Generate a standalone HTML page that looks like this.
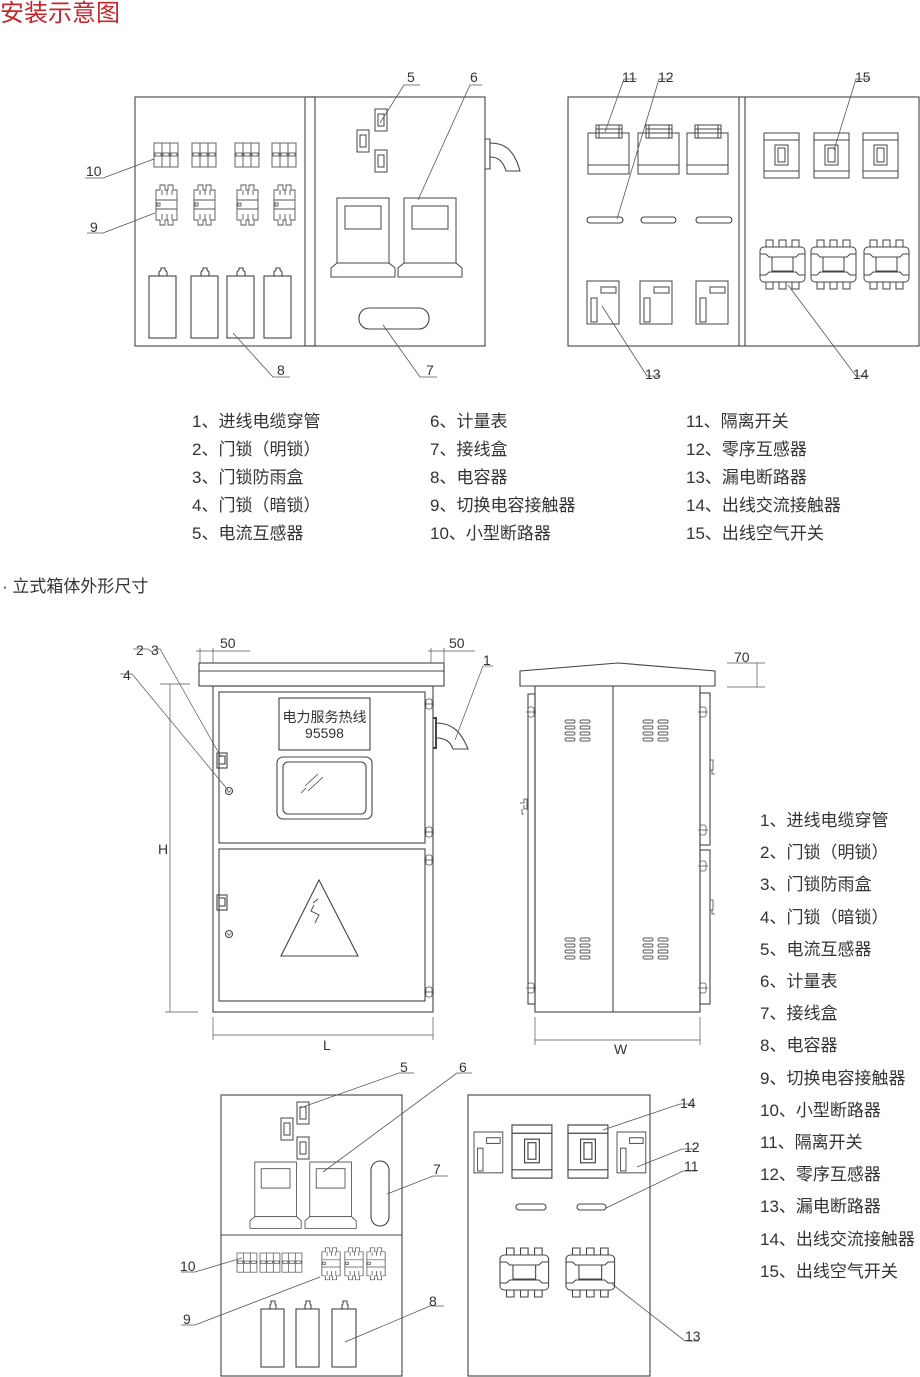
<!DOCTYPE html>
<html><head><meta charset="utf-8"><style>
html,body{margin:0;padding:0;background:#fff;}
svg{display:block;}
text{font-family:"Liberation Sans","Noto Sans CJK SC",sans-serif;fill:#333;}
</style></head><body>
<svg width="920" height="1377" viewBox="0 0 920 1377" xmlns="http://www.w3.org/2000/svg">
<defs>
<g id="brk" fill="none" stroke="#555" stroke-width="0.9">
<rect x="0" y="0" width="24" height="24"/><line x1="8" y1="0" x2="8" y2="24"/><line x1="16" y1="0" x2="16" y2="24"/>
<rect x="1" y="10" width="6" height="3"/><rect x="9" y="10" width="6" height="3"/><rect x="17" y="10" width="6" height="3"/>
</g>
<g id="con" fill="none" stroke="#555" stroke-width="0.9">
<path d="M1 6 h4 v-5 h5 v5 h3 v-5 h5 v5 h4 v30 h-4 v5 h-5 v-5 h-3 v5 h-5 v-5 h-4 z"/>
<line x1="1" y1="16" x2="22" y2="16"/><line x1="1" y1="25" x2="22" y2="25"/>
<rect x="2" y="19" width="3" height="3"/>
<path d="M7 6 v5 M12 6 v5 M17 6 v5 M7 30 v6 M12 30 v6 M17 30 v6"/>
</g>
<g id="meter" fill="none" stroke="#444" stroke-width="1">
<rect x="6" y="0" width="52" height="65"/><rect x="14" y="8" width="36" height="23"/>
<path d="M6 65 L0 70 L0 79 L64 79 L64 70 L58 65"/>
</g>
<g id="ct" fill="none" stroke="#444" stroke-width="1"><rect x="0" y="0" width="12" height="22"/><rect x="3" y="5" width="6" height="12"/></g>
<g id="iso" fill="none" stroke="#444" stroke-width="1">
<rect x="0" y="8" width="41" height="41"/><line x1="0" y1="40" x2="41" y2="40"/>
<rect x="8" y="0" width="26" height="13"/><line x1="11" y1="0" x2="11" y2="13"/><line x1="31" y1="0" x2="31" y2="13"/><line x1="8" y1="4" x2="34" y2="4"/>
</g>
<g id="air" fill="none" stroke="#444" stroke-width="1">
<rect x="0" y="0" width="35" height="45"/><line x1="0" y1="7" x2="35" y2="7"/><line x1="0" y1="38" x2="35" y2="38"/>
<rect x="11" y="12" width="13" height="20"/><rect x="14" y="15" width="7" height="14"/>
</g>
<g id="rcd" fill="none" stroke="#444" stroke-width="1">
<rect x="0" y="0" width="32" height="43"/><rect x="14" y="6" width="15" height="6"/><rect x="4" y="17" width="6" height="24"/>
</g>
<g id="ac" fill="none" stroke="#444" stroke-width="1">
<rect x="6" y="0" width="7" height="7"/><rect x="19" y="0" width="7" height="7"/><rect x="32" y="0" width="7" height="7"/>
<rect x="6" y="42" width="7" height="7"/><rect x="19" y="42" width="7" height="7"/><rect x="32" y="42" width="7" height="7"/>
<rect x="0" y="7" width="45" height="35" rx="4"/>
<path d="M0 14 h6 l3 3 h27 l3 -3 h6 M0 35 h6 l3 -3 h27 l3 3 h6"/>
<rect x="12" y="17" width="21" height="14"/>
</g>
<g id="vent" fill="none" stroke="#555" stroke-width="0.9">
<rect x="0" y="0" width="10" height="3" rx="1.5"/><rect x="0" y="6" width="10" height="3" rx="1.5"/><rect x="0" y="12" width="10" height="3" rx="1.5"/><rect x="0" y="18" width="10" height="3" rx="1.5"/>
<rect x="15" y="0" width="10" height="3" rx="1.5"/><rect x="15" y="6" width="10" height="3" rx="1.5"/><rect x="15" y="12" width="10" height="3" rx="1.5"/><rect x="15" y="18" width="10" height="3" rx="1.5"/>
</g>
<g id="hinge" fill="none" stroke="#555" stroke-width="0.8"><rect x="-3" y="-5" width="6" height="10" rx="2"/><line x1="-5" y1="0" x2="5" y2="0"/></g>
</defs>

<text x="0" y="21" font-size="24" style="fill:#c0282d">安装示意图</text>

<!-- TOP LEFT PANEL -->
<g fill="none" stroke="#444" stroke-width="1.1">
<rect x="135" y="97" width="350" height="249"/>
<rect x="305" y="97" width="10" height="249"/>
<rect x="149" y="276" width="27" height="62"/><rect x="191" y="276" width="27" height="62"/><rect x="227" y="276" width="27" height="62"/><rect x="264" y="276" width="27" height="62"/>
<path d="M159 276 v-4 l2 -2 v-2 h4 v2 l2 2 v4 M201 276 v-4 l2 -2 v-2 h4 v2 l2 2 v4 M237 276 v-4 l2 -2 v-2 h4 v2 l2 2 v4 M274 276 v-4 l2 -2 v-2 h4 v2 l2 2 v4"/>
<rect x="359" y="308" width="70" height="21" rx="10"/>
<path d="M485 139 h5 v30 h-5 M490 143 c14 0 24 6 30 28 h-14 c-3 -10 -8 -14 -16 -14"/>
</g>
<use href="#brk" x="154" y="143"/><use href="#brk" x="192" y="143"/><use href="#brk" x="235" y="143"/><use href="#brk" x="272" y="143"/>
<use href="#con" x="155" y="184"/><use href="#con" x="193" y="184"/><use href="#con" x="236" y="184"/><use href="#con" x="273" y="184"/>
<use href="#ct" x="357" y="130"/><use href="#ct" x="375" y="109"/><use href="#ct" x="375" y="150"/>
<use href="#meter" x="331" y="198"/><use href="#meter" x="398" y="198"/>
<g stroke="#555" stroke-width="0.8" fill="none">
<path d="M380 123 L404 85 H420"/><path d="M418 200 L470 85 H482"/>
<path d="M154 159 L103 178 H85"/><path d="M155 213 L103 233 H87"/>
<path d="M233 333 L273 377 H290"/><path d="M383 325 L420 377 H437"/>
</g>
<g font-size="14"><text x="407" y="82">5</text><text x="470" y="82">6</text><text x="86" y="176">10</text><text x="90" y="232">9</text><text x="277" y="375">8</text><text x="426" y="375">7</text></g>

<!-- TOP RIGHT PANEL -->
<g fill="none" stroke="#444" stroke-width="1.1">
<rect x="568" y="97" width="351" height="249"/>
<line x1="739" y1="97" x2="739" y2="346"/><line x1="745" y1="97" x2="745" y2="346"/>
<rect x="587" y="217" width="36" height="6" rx="3"/><rect x="641" y="217" width="35" height="6" rx="3"/><rect x="696" y="217" width="36" height="6" rx="3"/>
</g>
<use href="#iso" x="588" y="125"/><use href="#iso" x="638" y="125"/><use href="#iso" x="687" y="125"/>
<use href="#rcd" x="587" y="281"/><use href="#rcd" x="640" y="281"/><use href="#rcd" x="696" y="281"/>
<use href="#air" x="764" y="133"/><use href="#air" x="814" y="133"/><use href="#air" x="863" y="133"/>
<use href="#ac" x="760" y="240"/><use href="#ac" x="811" y="240"/><use href="#ac" x="864" y="240"/>
<g stroke="#555" stroke-width="0.8" fill="none">
<path d="M605 132 L624 79 H637"/><path d="M617 219 L659 79 H672"/><path d="M834 150 L856 79 H870"/>
<path d="M602 306 L647 376 H661"/><path d="M788 285 L856 376 H869"/>
</g>
<g font-size="14"><text x="622" y="82">11</text><text x="658" y="82">12</text><text x="855" y="82">15</text><text x="645" y="379">13</text><text x="853" y="379">14</text></g>

<!-- LEGEND 1 -->
<g font-size="17">
<text x="192" y="427">1、进线电缆穿管</text><text x="192" y="455">2、门锁（明锁）</text><text x="192" y="483">3、门锁防雨盒</text><text x="192" y="511">4、门锁（暗锁）</text><text x="192" y="539">5、电流互感器</text>
<text x="430" y="427">6、计量表</text><text x="430" y="455">7、接线盒</text><text x="430" y="483">8、电容器</text><text x="430" y="511">9、切换电容接触器</text><text x="430" y="539">10、小型断路器</text>
<text x="686" y="427">11、隔离开关</text><text x="686" y="455">12、零序互感器</text><text x="686" y="483">13、漏电断路器</text><text x="686" y="511">14、出线交流接触器</text><text x="686" y="539">15、出线空气开关</text>
<text x="2" y="592">· 立式箱体外形尺寸</text>
</g>

<!-- FRONT VIEW -->
<g fill="none" stroke="#444" stroke-width="1.1">
<rect x="199" y="663" width="245" height="23"/><line x1="199" y1="671" x2="444" y2="671"/>
<rect x="213" y="686" width="220" height="326"/>
<rect x="219" y="692" width="206" height="151"/>
<rect x="219" y="849" width="206" height="152"/>
<rect x="279" y="698" width="91" height="52"/>
<rect x="277" y="757" width="95" height="62" rx="6"/><rect x="283" y="762" width="83" height="52" rx="5"/>
<path d="M305 786 l13 -12 M308 791 l15 -14 M301 793 l5 -5" stroke-width="0.8"/>
<rect x="217" y="753" width="10" height="15"/><rect x="219" y="756" width="6" height="8"/>
<circle cx="229" cy="791" r="3.5"/><path d="M227 790 l2 2.5 l2 -2.5" stroke-width="0.7"/>
<rect x="217" y="895" width="10" height="15"/><rect x="219" y="898" width="6" height="8"/>
<circle cx="229" cy="934" r="3.5"/><path d="M227 933 l2 2.5 l2 -2.5" stroke-width="0.7"/>
<path d="M319 880 L281 956 L358 956 Z"/>
<path d="M314 905 l-3 6 l8 4 l-4 8 M313 903 l5 -4" stroke-width="0.9"/>
<path d="M433 718 h3 v30 h-3" stroke-width="2"/>
<path d="M436 723 c14 0 24 6 32 26 h-15 c-3 -8 -8 -11 -17 -11"/>
</g>
<use href="#hinge" x="429" y="704"/><use href="#hinge" x="429" y="832"/><use href="#hinge" x="429" y="860"/><use href="#hinge" x="429" y="992"/>
<g stroke="#555" stroke-width="0.7" fill="none">
<path d="M200 648 v15 M213 648 v15 M196 651 H250"/><path d="M431 648 v15 M444 648 v15 M428 651 H475"/>
<path d="M170 684 V1012 M160 684 H190 M165 1012 H198"/>
<path d="M213 1017 V1040 M433 1017 V1040 M213 1035 H433"/>
<path d="M133 649 H148 L152 652 L156 649 H160 L221 757"/>
<path d="M120 674 H132 L228 790"/>
<path d="M483 666 H493 M483 666 L455 740"/>
<path d="M535 1017 V1045 M700 1017 V1045 M535 1040 H700"/>
<path d="M727 663 H765 M727 687 H765 M757 663 V687"/>
</g>
<g font-size="14"><text x="220" y="648">50</text><text x="449" y="648">50</text><text x="136" y="655">2</text><text x="151" y="655">3</text><text x="123" y="680">4</text><text x="483" y="665">1</text><text x="158" y="854">H</text><text x="323" y="1050">L</text><text x="614" y="1054">W</text><text x="734" y="662">70</text></g>
<text x="324.5" y="722" font-size="14" text-anchor="middle">电力服务热线</text>
<text x="324.5" y="738" font-size="14" text-anchor="middle">95598</text>

<!-- SIDE VIEW -->
<g fill="none" stroke="#444" stroke-width="1.1">
<path d="M520 686 V671 L618 663 L715 671 V686 Z"/>
<rect x="535" y="686" width="165" height="326"/>
<line x1="613" y1="686" x2="613" y2="1012"/>
<rect x="528" y="694" width="7" height="310"/>
<rect x="700" y="693" width="10" height="152"/><rect x="700" y="850" width="10" height="154"/>
<path d="M520 803 h4 v-4 h3 v10 h-3 v-4 M522 809 v5 h2" stroke-width="0.8"/>
<path d="M710 760 h3 v10 h-3 v-2 M712 770 v4 h3" stroke-width="0.8"/>
<path d="M710 900 h3 v10 h-3 M712 910 v4 h3" stroke-width="0.8"/>
</g>
<use href="#vent" x="565" y="720"/><use href="#vent" x="643" y="720"/><use href="#vent" x="565" y="938"/><use href="#vent" x="643" y="938"/>
<use href="#hinge" x="531" y="712"/><use href="#hinge" x="531" y="988"/><use href="#hinge" x="703" y="712"/><use href="#hinge" x="703" y="830"/><use href="#hinge" x="703" y="866"/><use href="#hinge" x="703" y="988"/>

<!-- LEGEND 2 -->
<g font-size="17">
<text x="760" y="826">1、进线电缆穿管</text><text x="760" y="858">2、门锁（明锁）</text><text x="760" y="890">3、门锁防雨盒</text><text x="760" y="923">4、门锁（暗锁）</text><text x="760" y="955">5、电流互感器</text>
<text x="760" y="987">6、计量表</text><text x="760" y="1019">7、接线盒</text><text x="760" y="1051">8、电容器</text><text x="760" y="1084">9、切换电容接触器</text><text x="760" y="1116">10、小型断路器</text>
<text x="760" y="1148">11、隔离开关</text><text x="760" y="1180">12、零序互感器</text><text x="760" y="1212">13、漏电断路器</text><text x="760" y="1245">14、出线交流接触器</text><text x="760" y="1277">15、出线空气开关</text>
</g>

<!-- BOTTOM LEFT PANEL -->
<g fill="none" stroke="#444" stroke-width="1.1">
<rect x="221" y="1095" width="181" height="281"/>
<line x1="221" y1="1235" x2="402" y2="1235"/>
<rect x="371" y="1161" width="18" height="65" rx="9"/>
<rect x="261" y="1309" width="23" height="58"/><rect x="296" y="1309" width="23" height="58"/><rect x="332" y="1309" width="24" height="58"/>
<path d="M270 1309 v-4 l1 -1 v-3 h4 v3 l1 1 v4 M305 1309 v-4 l1 -1 v-3 h4 v3 l1 1 v4 M342 1309 v-4 l1 -1 v-3 h4 v3 l1 1 v4"/>
</g>
<use href="#ct" x="281" y="1118"/><use href="#ct" x="297" y="1102"/><use href="#ct" x="297" y="1137"/>
<g transform="translate(250,1162) scale(0.8,0.84)"><use href="#meter"/></g>
<g transform="translate(305,1162) scale(0.8,0.84)"><use href="#meter"/></g>
<g transform="translate(237,1253) scale(0.83,0.8)"><use href="#brk"/></g>
<g transform="translate(260,1253) scale(0.83,0.8)"><use href="#brk"/></g>
<g transform="translate(282,1253) scale(0.83,0.8)"><use href="#brk"/></g>
<g transform="translate(321,1247) scale(0.87,0.8)"><use href="#con"/></g>
<g transform="translate(344,1247) scale(0.87,0.8)"><use href="#con"/></g>
<g transform="translate(366,1247) scale(0.87,0.8)"><use href="#con"/></g>
<g stroke="#555" stroke-width="0.8" fill="none">
<path d="M300 1108 L399 1073 H414"/><path d="M323 1172 L457 1073 H472"/><path d="M387 1194 L433 1176 H448"/>
<path d="M242 1258 L195 1272 H181"/><path d="M320 1277 L195 1325 H181"/><path d="M345 1342 L430 1306 H444"/>
</g>
<g font-size="14"><text x="400" y="1072">5</text><text x="459" y="1072">6</text><text x="433" y="1174">7</text><text x="180" y="1271">10</text><text x="183" y="1324">9</text><text x="429" y="1306">8</text></g>

<!-- BOTTOM RIGHT PANEL -->
<g fill="none" stroke="#444" stroke-width="1.1">
<rect x="468" y="1095" width="182" height="281"/>
<rect x="516" y="1204" width="30" height="6" rx="3"/><rect x="577" y="1204" width="29" height="6" rx="3"/>
</g>
<g transform="translate(474,1132) scale(0.9,0.95)"><use href="#rcd"/></g>
<g transform="translate(617,1132) scale(0.9,0.95)"><use href="#rcd"/></g>
<g transform="translate(512,1125) scale(1.14,1.18)"><use href="#air"/></g>
<g transform="translate(568,1125) scale(1.14,1.18)"><use href="#air"/></g>
<g transform="translate(500,1248) scale(1.08,1)"><use href="#ac"/></g>
<g transform="translate(566,1248) scale(1.08,1)"><use href="#ac"/></g>
<g stroke="#555" stroke-width="0.8" fill="none">
<path d="M603 1130 L680 1104 H695"/><path d="M637 1167 L682 1149 H697"/><path d="M606 1208 L683 1171 H697"/><path d="M612 1284 L685 1341 H699"/>
</g>
<g font-size="14"><text x="680" y="1108">14</text><text x="684" y="1152">12</text><text x="684" y="1171">11</text><text x="685" y="1341">13</text></g>
</svg>
</body></html>
